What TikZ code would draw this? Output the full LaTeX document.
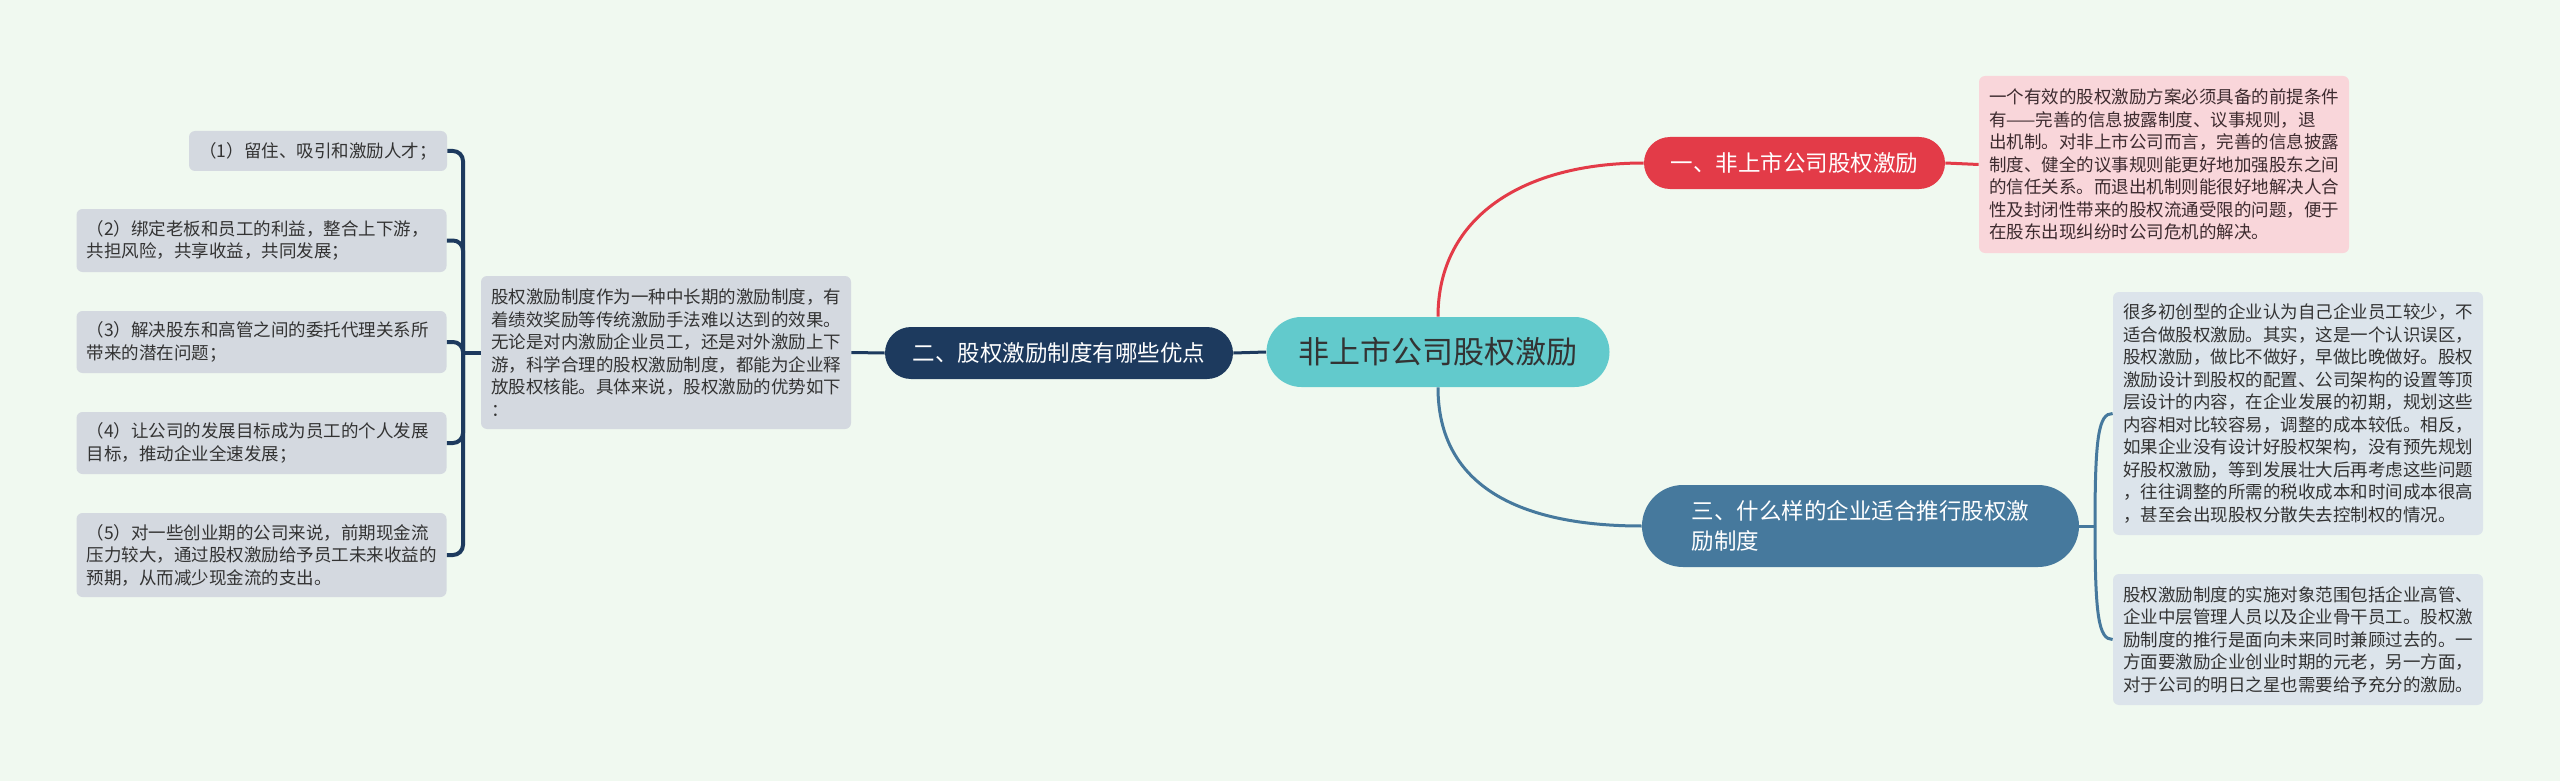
\documentclass[tikz,border=0pt]{standalone}
\usepackage{fontspec}
\setmainfont{Noto Sans CJK SC}
\definecolor{bgmint}{HTML}{F0F9F0}
\definecolor{rootteal}{HTML}{62CACC}
\definecolor{topicred}{HTML}{E33B48}
\definecolor{topicnavy}{HTML}{1D3A5E}
\definecolor{topicsteel}{HTML}{46799D}
\definecolor{notepink}{HTML}{F9D6DA}
\definecolor{notegrey}{HTML}{D4D9E0}
\definecolor{noteblue}{HTML}{DCE4EB}
\definecolor{inkdark}{HTML}{333333}
\definecolor{pinkink}{HTML}{3D2B2F}
\tikzset{
  rootbox/.style={fill=rootteal,text=inkdark,rounded corners=17.5pt,minimum width=171.5pt,minimum height=35pt,font=\fontsize{15.5}{19}\selectfont},
  topic/.style={fill=#1,text=white,rounded corners=13pt,minimum height=26pt,font=\fontsize{11.25}{15}\selectfont},
  note/.style={fill=#1,text=inkdark,rounded corners=3pt,inner xsep=5pt,inner ysep=0pt,font=\fontsize{8.75}{11.25}\selectfont},
  para/.style={note=#1,text width=175pt,align=left},
  link/.style={#1,line width=1.5pt}
}
\begin{document}
\begin{tikzpicture}[x=0.5pt,y=-0.5pt]
\fill[bgmint] (0,0) rectangle (2560,781);
\useasboundingbox (0,0) rectangle (2560,781);

\node[rootbox] (root) at (1438,352) {非上市公司股权激励};
\node[topic=topicred,minimum width=150.5pt] (one) at (1794.5,163) {一、非上市公司股权激励};
\node[topic=topicnavy,minimum width=174pt] (two) at (1059,353) {二、股权激励制度有哪些优点};
\node[topic=topicsteel,minimum width=218.5pt,minimum height=41pt,rounded corners=20.5pt,text width=168.75pt,align=left] (three) at (1860.5,526) {三、什么样的企业适合推行股权激\\励制度};

\node[para=notepink,text=pinkink,minimum height=88.5pt] (onenote) at (2164,164.5) {一个有效的股权激励方案必须具备的前提条件\\有——完善的信息披露制度、议事规则，退\\出机制。对非上市公司而言，完善的信息披露\\制度、健全的议事规则能更好地加强股东之间\\的信任关系。而退出机制则能很好地解决人合\\性及封闭性带来的股权流通受限的问题，便于\\在股东出现纠纷时公司危机的解决。};

\node[para=notegrey,minimum height=76.5pt] (twonote) at (666,352.5) {股权激励制度作为一种中长期的激励制度，有\\着绩效奖励等传统激励手法难以达到的效果。\\无论是对内激励企业员工，还是对外激励上下\\游，科学合理的股权激励制度，都能为企业释\\放股权核能。具体来说，股权激励的优势如下\\：};
\node[note=notegrey,minimum width=129pt,minimum height=20pt] (adv1) at (318,151) {（1）留住、吸引和激励人才；};
\node[para=notegrey,minimum height=31.5pt] (adv2) at (261.5,240.5) {（2）绑定老板和员工的利益，整合上下游，\\共担风险，共享收益，共同发展；};
\node[para=notegrey,minimum height=31pt] (adv3) at (261.5,342) {（3）解决股东和高管之间的委托代理关系所\\带来的潜在问题；};
\node[para=notegrey,minimum height=31pt] (adv4) at (261.5,443) {（4）让公司的发展目标成为员工的个人发展\\目标，推动企业全速发展；};
\node[para=notegrey,minimum height=42pt] (adv5) at (261.5,555) {（5）对一些创业期的公司来说，前期现金流\\压力较大，通过股权激励给予员工未来收益的\\预期，从而减少现金流的支出。};

\node[para=noteblue,minimum height=121.5pt] (threenote1) at (2298,413.5) {很多初创型的企业认为自己企业员工较少，不\\适合做股权激励。其实，这是一个认识误区，\\股权激励，做比不做好，早做比晚做好。股权\\激励设计到股权的配置、公司架构的设置等顶\\层设计的内容，在企业发展的初期，规划这些\\内容相对比较容易，调整的成本较低。相反，\\如果企业没有设计好股权架构，没有预先规划\\好股权激励，等到发展壮大后再考虑这些问题\\，往往调整的所需的税收成本和时间成本很高\\，甚至会出现股权分散失去控制权的情况。};
\node[para=noteblue,minimum height=65.5pt] (threenote2) at (2298,639.5) {股权激励制度的实施对象范围包括企业高管、\\企业中层管理人员以及企业骨干员工。股权激\\励制度的推行是面向未来同时兼顾过去的。一\\方面要激励企业创业时期的元老，另一方面，\\对于公司的明日之星也需要给予充分的激励。};

\coordinate (advfork) at (463,352.5);
\coordinate (typefork) at (2095,526);

\draw[link=topicred] (root.north) .. controls +(0,-100) and +(-120,0) .. (one.west);
\draw[link=topicred] (one.east) -- (onenote.west);
\draw[link=topicnavy] (root.west) -- (two.east);
\draw[link=topicnavy] (two.west) -- (twonote.east);
\draw[link=topicnavy,line width=2pt] (twonote.west) -- (advfork);
\foreach \k in {1,...,5}
  \draw[link=topicnavy,line width=2pt,rounded corners=5pt] (advfork) |- (adv\k.east);
\draw[link=topicsteel] (root.south) .. controls +(0,100) and +(-120,0) .. (three.west);
\draw[link=topicsteel] (three.east) -- (typefork);
\draw[link=topicsteel] (typefork) .. controls +(0,-90) and +(-14,0) .. (threenote1.west);
\draw[link=topicsteel] (typefork) .. controls +(0,90) and +(-14,0) .. (threenote2.west);
\end{tikzpicture}
\end{document}
